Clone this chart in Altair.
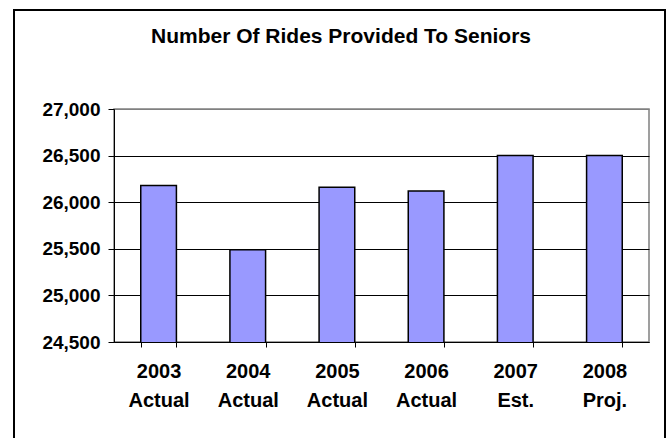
import altair as alt
import pandas as pd

title_text = "Number Of Rides Provided To Seniors"
categories = ["2003 Actual", "2004 Actual", "2005 Actual", "2006 Actual", "2007 Est.", "2008 Proj."]
rides = [26180, 25490, 26160, 26120, 26500, 26500]
y_ticks = [24500, 25000, 25500, 26000, 26500, 27000]

df = pd.DataFrame({"cat": categories, "rides": rides})

FONT = "Liberation Sans"
W, H = 535, 233

x_enc = alt.X(
    "cat:N",
    sort=categories,
    scale=alt.Scale(paddingInner=0.6, paddingOuter=0.3),
    axis=alt.Axis(
        title=None,
        labelAngle=0,
        labelExpr="split(datum.label, ' ')",
        labelFont=FONT,
        labelFontSize=20,
        labelFontWeight="bold",
        labelColor="black",
        labelPadding=14,
        labelLineHeight=29,
        tickBand="extent",
        tickSize=5,
        tickColor="black",
        domainColor="black",
        grid=False,
    ),
)

y_enc = alt.Y(
    "rides:Q",
    scale=alt.Scale(domain=[24500, 27000], zero=False, nice=False),
    axis=alt.Axis(
        title=None,
        values=y_ticks,
        format=",d",
        labelFont=FONT,
        labelFontSize=19,
        labelFontWeight="bold",
        labelColor="black",
        labelPadding=8,
        tickSize=6,
        tickColor="black",
        domainColor="black",
        grid=True,
        gridColor={"condition": {"test": "datum.value == 27000", "value": "#808080"}, "value": "black"},
        gridWidth=1,
    ),
)

bars = alt.Chart(df).mark_bar(
    color="#9999FF", stroke="black", strokeWidth=1.5, clip=True
).encode(x=x_enc, y=y_enc)

frame = alt.Chart(alt.Data(values=[{"a": 1}])).mark_rect(
    filled=False, stroke="black", strokeWidth=2
).encode(
    x=alt.value(-100), x2=alt.value(551), y=alt.value(-99), y2=alt.value(345)
)

title = alt.Chart(alt.Data(values=[{"t": title_text}])).mark_text(
    font=FONT, fontSize=21, fontWeight="bold", color="black",
    align="center", baseline="middle"
).encode(x=alt.value(227), y=alt.value(-72), text="t:N")

chart = alt.layer(bars, frame, title).properties(
    width=W, height=H,
    autosize=alt.AutoSizeParams(type="none"),
    padding={"left": 114, "top": 109, "right": 21, "bottom": 96},
    background="white",
).configure_view(stroke="#808080", strokeWidth=1.5)

chart.save("out.html", embed_options={"renderer": "svg", "actions": False})
